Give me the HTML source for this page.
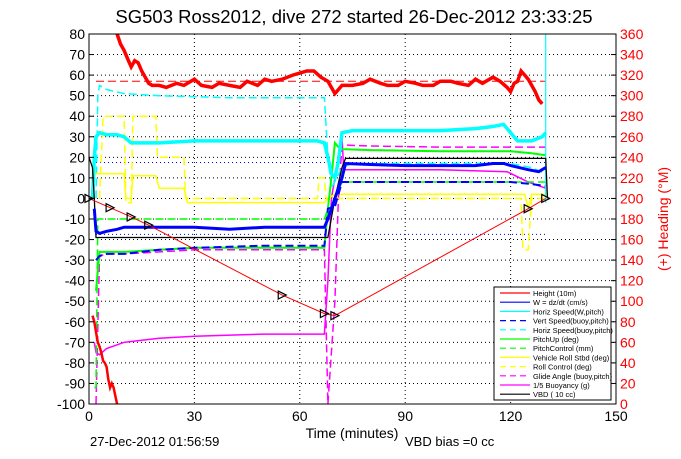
<!DOCTYPE html>
<html><head><meta charset="utf-8"><style>
html,body{margin:0;padding:0;background:#fff;}
svg text{font-family:"Liberation Sans",sans-serif;}
</style></head><body>
<svg id="chart" width="681" height="454" xmlns="http://www.w3.org/2000/svg">
<text x="354" y="23" font-size="18.5" text-anchor="middle">SG503 Ross2012, dive 272 started 26-Dec-2012 23:33:25</text>
<g id="grid"></g>
<g id="series"></g>
<rect x="89" y="34" width="527" height="370" fill="none" stroke="#000" stroke-width="1"/>
<g id="axes"></g>
<text x="352" y="438" font-size="14" text-anchor="middle">Time (minutes)</text>
<text x="90" y="446" font-size="13">27-Dec-2012 01:56:59</text>
<text x="405" y="446" font-size="13">VBD bias =0 cc</text>
<text x="0" y="0" font-size="14" fill="#f00" text-anchor="middle" transform="translate(668,219) rotate(-90)">(+) Heading (°M)</text>
<g id="legend"></g>
</svg>
<script>
// ----- data -----
const xTicks = [0,30,60,90,120,150];
const yTicks = [80,70,60,50,40,30,20,10,0,-10,-20,-30,-40,-50,-60,-70,-80,-90,-100];
const hTicks = [360,340,320,300,280,260,240,220,200,180,160,140,120,100,80,60,40,20,0];
const heightT = [0,6,12,17,55,67,70,125,130];
const heightV = [0,-4.5,-9,-13,-47,-56,-57,-5,0];
const headT1 = [8,9,10,11,12,13,14,15,16,17,18,20,22,25,27,30,32,35,37,40,43,45,48,50,52,55,58,60,62,64,66,68,70,72,75,78,80,83,85,88,90,93,95,98,100,103,105,108,110,112,115,117,119,120,121,122,123,124,125,126,127,128,129];
const headV1 = [80,75,72,68,64,67,66,62,59,56,55,55,54,56,55,58,55,54,56,55,54,57,55,58,57,58,60,61,62,62,59,57,51,55,55,56,58,56,55,55,57,56,55,55,57,57,56,55,58,56,59,57,54,52,56,57,62,60,58,55,52,48,46];
const headT2 = [1,1.5,2,2.5,3,3.5,4,4.5,5,5.5,6,6.5,7,7.5,8];
const headV2 = [-57,-60,-65,-70,-72,-75,-79,-80,-82,-88,-92,-90,-92,-96,-100];
const wT = [1.5,2,3,5,8,10,15,20,30,40,50,60,67,68,70,72,73,80,90,100,110,115,118,120,125,128,130];
const wV = [-5,-16,-17,-16,-15,-14,-14,-14,-14,-15,-14,-14,-14,-10,0,10,17,16.5,16,16,16,17,17,16,14,13,15];
const vVertT = [2,3,5,10,20,30,50,67,68,70,72,80,120,126,130];
const vVertV = [-30,-28,-27,-27,-25,-24,-23,-23,-5,-4,8,8,8,7,6];
const cyanT = [1,1.5,2,3,5,8,10,12,15,20,30,40,50,60,65,67,68,69,70,71,72,75,80,90,100,110,115,118,120,122,126,129,130];
const cyanV = [0,20,30,32,31,31,30,27,27,27,28,28,28,28,28,27,20,12,10,18,32,33,33,33,33,34,35,36,32,28,28,30,32];
const cyanDT = [2,2.5,3,5,10,20,40,60,67,68,69,72,75,80,120,126,130];
const cyanDV = [0,50,55,53,51,50,49,49,49,20,5,15,17,17,17,15,12];
const pitchT = [2,3,5,10,20,30,50,67,68,69,70,71,72,80,100,120,126,130];
const pitchV = [-45,-26,-26,-26,-25,-24,-24,-24,-5,10,27,25,24,23.5,23,23,22,21];
const pitchCT = [1.5,2,2.5,3,10,30,67,68,69,70,72,80,120,130];
const pitchCV = [-92,-92,-10,-10,-10,-10,-10,-5,-5,0,8,8,8,8];
const rollT = [1,2,3,10,10.5,12,12.5,13,19,20,27,28,40,60,67,68,70,72,120,124,125,126,127,130];
const rollV = [15,12,12,12,0,0,11,11,11,5,5,-2,-2,-2,-2,0,2,2,2,2,-5,2,2,2];
const rollCT = [3,4,4.5,10,10.5,12,12.5,19,19.5,27,27.5,65,65.5,67,67.5,70,72,120,123,123.5,125,126,128,130];
const rollCV = [0,40,40,40,-2,-2,40,40,20,20,0,0,10,10,0,0,0,0,0,-25,-25,0,0,0];
const glideT = [2,3,5,10,20,30,50,67,68,70,71,72,80,100,120,130];
const glideV = [-100,-28,-27,-27,-26,-25,-25,-25,-100,-50,0,26,25.5,25,25,25];
const buoyT = [1.5,2,3,5,10,15,20,30,50,67,68,69,72,72.5,75,80,100,119,125,130];
const buoyV = [-70,-75,-76,-73,-70,-69,-68,-67,-66,-66,-40,0,30,14,14,14,14,13,8,5];
const vbdT = [0,1,1.5,2,67,68,70,72,73,100,130,130.5];
const vbdV = [20,15,0,-19,-19,-19,0,15,19.5,19.5,19.5,0];
const dotLevels = [17.5,-17.5];
const headRef = 57;
const markerT = [0,6,12,17,55,67,70,125,130];
const markerV = [0,-4.5,-9,-13,-47,-56,-57,-5,0];
const legendLabels = ["Height (10m)","W = dz/dt (cm/s)","Horiz Speed(W,pitch)","Vert Speed(buoy,pitch)","Horiz Speed(buoy,pitch)","PitchUp (deg)","PitchControl (mm)","Vehicle Roll Stbd (deg)","Roll Control (deg)","Glide Angle (buoy,pitch)","1/5 Buoyancy (g)","VBD ( 10 cc)"];

// ----- layout -----
const X0=89, X1=616, Y0=34, Y1=404;
const sx = t => X0 + (t/150)*(X1-X0);
const sy = v => Y0 + (80-v)/180*(Y1-Y0);
const hy = h => sy(h/2-100);
const NS="http://www.w3.org/2000/svg";
function mk(tag, parent, attrs){const e=document.createElementNS(NS,tag);for(const k in attrs)e.setAttribute(k,attrs[k]);parent.appendChild(e);return e;}
const grid=document.getElementById('grid'), axes=document.getElementById('axes'), ser=document.getElementById('series'), leg=document.getElementById('legend');

xTicks.forEach(t=>{
  if(t>0&&t<150){const l=mk('line',grid,{x1:sx(t),x2:sx(t),y1:Y0,y2:Y1,stroke:'#000','stroke-dasharray':'1 3','stroke-width':1});
  
  }
  const tx=mk('text',axes,{x:sx(t),y:Y1+17,'font-size':14,'text-anchor':'middle'});tx.textContent=t;
  
  
});
yTicks.forEach(v=>{
  if(v<80&&v>-100){const l=mk('line',grid,{x1:X0,x2:X1,y1:sy(v),y2:sy(v),stroke:'#000','stroke-dasharray':'1 3','stroke-width':1});
  
  }
  mk('line',axes,{x1:X0,x2:X0+5,y1:sy(v),y2:sy(v),stroke:'#000'});
  const tx=mk('text',axes,{x:X0-4,y:sy(v)+5,'font-size':14,'text-anchor':'end'});tx.textContent=v;
  
  
});
hTicks.forEach(h=>{
  mk('line',axes,{x1:X1-5,x2:X1,y1:hy(h),y2:hy(h),stroke:'#000'});
  const tx=mk('text',axes,{x:X1+4,y:hy(h)+5,'font-size':14,fill:'#f00'});tx.textContent=h;
  
  
});

function line(T,V,color,w,dash,name){
  const d=T.map((t,i)=>(i?'L':'M')+sx(t).toFixed(1)+' '+sy(V[i]).toFixed(1)).join(' ');
  const p=mk('path',ser,{d:d,fill:'none',stroke:color,'stroke-width':w});
  if(dash)p.setAttribute('stroke-dasharray',dash);
  
  
  return p;
}
dotLevels.forEach(v=>line([2,130],[v,v],'#00f',1,'1 3','w-limit-line'));
line([2,130],[headRef,headRef],'#f00',1,'8 4','heading-reference-line');
line(glideT,glideV,'#f0f',1.5,'8 4','glide-angle-line');
line(buoyT,buoyV,'#f0f',1.5,null,'buoyancy-line');
line(cyanDT,cyanDV,'#0ff',1.5,'8 4','horiz-speed-buoy-line');
line(rollCT,rollCV,'#ff0',1.5,'8 4','roll-control-line');
line(rollT,rollV,'#ff0',1.5,null,'roll-line');
line(pitchCT,pitchCV,'#0f0',1.5,'8 4','pitch-control-line');
line(pitchT,pitchV,'#0f0',2,null,'pitch-line');
line(vVertT,vVertV,'#00f',2,'8 4','vert-speed-line');
line(cyanT,cyanV,'#0ff',3.5,null,'horiz-speed-line');
line([130,130],[-2,80],'#0ff',1.2,null,'horiz-speed-spike');
line(vbdT,vbdV,'#000',1.3,null,'vbd-line');
line(wT,wV,'#00f',3,null,'w-line');
line(heightT,heightV,'#f00',1,null,'height-line');
line(headT1,headV1,'#f00',3.5,null,'heading-line');
line(headT2,headV2,'#f00',2.5,null,'heading-wrap-line');
markerT.forEach((t,i)=>{
  const x=sx(t),y=sy(markerV[i]);
  const m=mk('path',ser,{d:`M${x-4} ${y-4}L${x+4} ${y}L${x-4} ${y+4}Z`,fill:'none',stroke:'#000','stroke-width':1.2});
  
  
});

// legend
const lr=mk('rect',leg,{x:494,y:287,width:117,height:113,fill:'#fff',stroke:'#000'});


const lc=['#f00','#00f','#0ff','#00f','#0ff','#0f0','#0f0','#ff0','#ff0','#f0f','#f0f','#000'];
const ld=[0,0,0,1,1,0,1,0,1,1,0,0];
legendLabels.forEach((s,i)=>{
  const y=293+i*9.2;
  const l=mk('line',leg,{x1:500,x2:530,y1:y,y2:y,stroke:lc[i],'stroke-width':1.2});
  if(ld[i])l.setAttribute('stroke-dasharray','6 4');
  
  
  const tx=mk('text',leg,{x:533,y:y+3,'font-size':7.5});tx.textContent=s;
  
  
});
</script>
</body></html>
